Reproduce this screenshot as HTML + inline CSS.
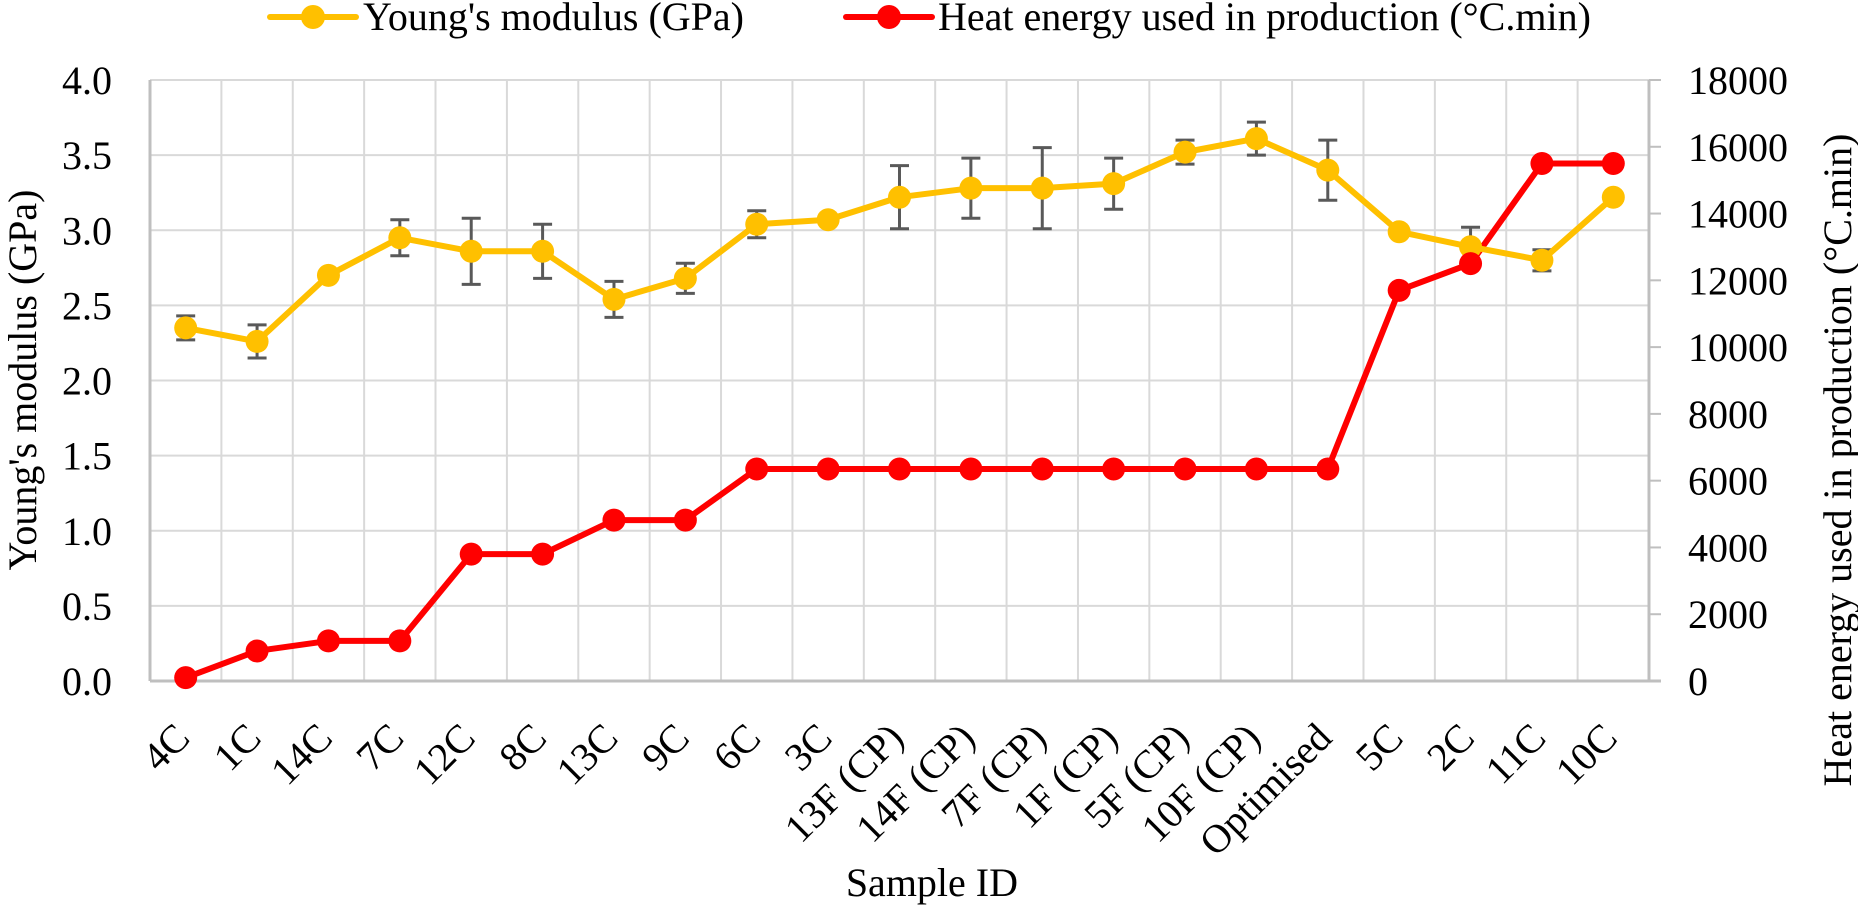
<!DOCTYPE html>
<html><head><meta charset="utf-8">
<style>
html,body{margin:0;padding:0;background:#fff;}
svg{display:block;font-family:"Liberation Serif","Times New Roman",serif;}
</style></head>
<body>
<svg id="chart" width="1858" height="907" viewBox="0 0 1858 907" xmlns="http://www.w3.org/2000/svg">
<g id="grid"></g>
<g id="axes"></g>
<g id="series"></g>
<g id="legend">
  <g>
    <line x1="270" y1="17" x2="356" y2="17" stroke="#FFC000" stroke-width="6" stroke-linecap="round"/>
    <circle cx="313" cy="17" r="12" fill="#FFC000"/>
    <text x="363" y="30" font-size="40" fill="#000">Young's modulus (GPa)</text>
  </g>
  <g>
    <line x1="846" y1="17" x2="932" y2="17" stroke="#FF0000" stroke-width="6" stroke-linecap="round"/>
    <circle cx="889" cy="17" r="12" fill="#FF0000"/>
    <text x="938" y="30" font-size="40" fill="#000">Heat energy used in production (°C.min)</text>
  </g>
</g>
<text x="1018" y="896" font-size="40" text-anchor="end">Sample ID</text>
<text transform="translate(36,380) rotate(-90)" font-size="40" text-anchor="middle">Young's modulus (GPa)</text>
<text transform="translate(1851,460) rotate(-90)" font-size="40" text-anchor="middle">Heat energy used in production (°C.min)</text>
</svg>
<script>
const categories = ["4C","1C","14C","7C","12C","8C","13C","9C","6C","3C","13F (CP)","14F (CP)","7F (CP)","1F (CP)","5F (CP)","10F (CP)","Optimised","5C","2C","11C","10C"];
const modulus = [2.35,2.26,2.70,2.95,2.86,2.86,2.54,2.68,3.04,3.07,3.22,3.28,3.28,3.31,3.52,3.61,3.40,2.99,2.89,2.80,3.22];
const modulusErr = [0.08,0.11,0.03,0.12,0.22,0.18,0.12,0.10,0.09,0.02,0.21,0.20,0.27,0.17,0.08,0.11,0.20,0.02,0.13,0.07,0.0];
const heat = [100,900,1200,1200,3800,3800,4820,4820,6350,6350,6350,6350,6350,6350,6350,6350,6350,11700,12500,15500,15500];
const leftTicks = ["0.0","0.5","1.0","1.5","2.0","2.5","3.0","3.5","4.0"];
const rightTicks = ["0","2000","4000","6000","8000","10000","12000","14000","16000","18000"];

const NS="http://www.w3.org/2000/svg";
const L=150,R=1649,T=80,B=681;
const band=(R-L)/categories.length;
function xPos(i){return L+band*(i+0.5);}
function yL(v){return B-(v/4)*(B-T);}
function yR(v){return B-(v/18000)*(B-T);}
function mk(tag,attrs,parent){const e=document.createElementNS(NS,tag);for(const k in attrs)e.setAttribute(k,attrs[k]);parent.appendChild(e);return e;}
const grid=document.getElementById('grid'),axes=document.getElementById('axes'),series=document.getElementById('series');

leftTicks.forEach((t,i)=>{
  const v=parseFloat(t),y=yL(v);
  if(i>0){const g=mk('line',{x1:L,x2:R,y1:y,y2:y,stroke:'#D9D9D9','stroke-width':2},grid);
  
  }
  const tx=mk('text',{x:112,y:y+14,'font-size':40,'text-anchor':'end'},axes);
  tx.textContent=t;
  
  
});
for(let i=1;i<categories.length;i++){
  const x=L+band*i;
  const g=mk('line',{x1:x,x2:x,y1:T,y2:B,stroke:'#D9D9D9','stroke-width':2},grid);
  
  
}
rightTicks.forEach(t=>{
  const v=parseFloat(t),y=yR(v);
  const tk=mk('line',{x1:R,x2:R+12,y1:y,y2:y,stroke:'#BFBFBF','stroke-width':2},axes);
  
  
  const tx=mk('text',{x:1688,y:y+14,'font-size':40,'text-anchor':'start'},axes);
  tx.textContent=t;
  
  
});
const la=mk('line',{x1:L,x2:L,y1:T,y2:B,stroke:'#BFBFBF','stroke-width':3},axes);


const ra=mk('line',{x1:R,x2:R,y1:T,y2:B,stroke:'#BFBFBF','stroke-width':3},axes);


const ba=mk('line',{x1:L,x2:R+12,y1:B,y2:B,stroke:'#BFBFBF','stroke-width':3},axes);


categories.forEach((c,i)=>{
  const x=xPos(i)+6,y=740;
  const tx=mk('text',{x:x,y:y,'font-size':40,'text-anchor':'end',transform:`rotate(-45 ${x} ${y})`},axes);
  tx.textContent=c;
  
  
});

// heat series
const hp=mk('polyline',{points:heat.map((v,i)=>xPos(i)+','+yR(v)).join(' '),fill:'none',stroke:'#FF0000','stroke-width':6,'stroke-linejoin':'round'},series);


// modulus error bars
modulus.forEach((v,i)=>{
  const e=modulusErr[i]; if(!e) return;
  const x=xPos(i),y1=yL(v+e),y2=yL(v-e);
  const g=mk('g',{},series);
  
  
  mk('line',{x1:x,x2:x,y1:y1,y2:y2,stroke:'#595959','stroke-width':3},g);
  mk('line',{x1:x-9.5,x2:x+9.5,y1:y1,y2:y1,stroke:'#595959','stroke-width':3},g);
  mk('line',{x1:x-9.5,x2:x+9.5,y1:y2,y2:y2,stroke:'#595959','stroke-width':3},g);
});
const mp=mk('polyline',{points:modulus.map((v,i)=>xPos(i)+','+yL(v)).join(' '),fill:'none',stroke:'#FFC000','stroke-width':6,'stroke-linejoin':'round'},series);


modulus.forEach((v,i)=>{
  const c=mk('circle',{cx:xPos(i),cy:yL(v),r:11.5,fill:'#FFC000'},series);
  
  
});
heat.forEach((v,i)=>{
  const c=mk('circle',{cx:xPos(i),cy:yR(v),r:11.5,fill:'#FF0000'},series);
  
  
});
</script>
</body></html>
